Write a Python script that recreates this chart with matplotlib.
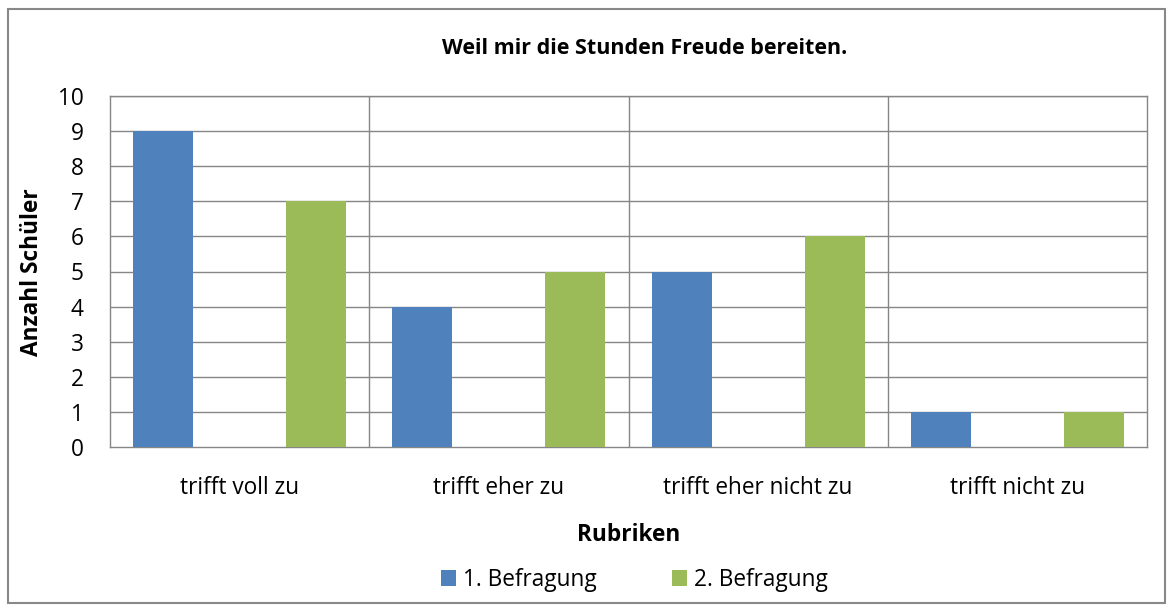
import matplotlib
matplotlib.use("Agg")
import matplotlib.pyplot as plt
from matplotlib.patches import Rectangle
import numpy as np

categories = ["trifft voll zu", "trifft eher zu", "trifft eher nicht zu", "trifft nicht zu"]
befragung1 = [9, 4, 5, 1]
befragung2 = [7, 5, 6, 1]
series_names = ["1. Befragung", "2. Befragung"]
yticks = list(range(0, 11))

plt.rcParams['font.family'] = ['Open Sans', 'DejaVu Sans']

W, H = 1175, 612
fig = plt.figure(figsize=(W/100, H/100), dpi=100)
fig.patches.append(Rectangle((8/W, 9/H), (1165-8)/W, (603-9)/H, transform=fig.transFigure,
                             fill=False, edgecolor='#888888', linewidth=1.5))

ax = fig.add_axes([110/W, 1-447/H, (1147-110)/W, (447-96)/H])
x = np.arange(len(categories))
bw = 0.232
ax.bar(x - 0.295, befragung1, bw, color='#4F81BD', label=series_names[0], zorder=3)
ax.bar(x + 0.295, befragung2, bw, color='#9BBB59', label=series_names[1], zorder=3)

fs = 16.3
ax.set_xlim(-0.5, len(categories) - 0.5)
ax.set_ylim(0, 10)
ax.set_yticks(yticks)
ax.set_xticks(x)
ax.set_xticklabels(categories, fontsize=fs)
ax.tick_params(axis='y', labelsize=fs, length=0, pad=19)
ax.tick_params(axis='x', length=0, pad=21)
for y in yticks[1:]:
    ax.axhline(y, color='#868686', linewidth=1, zorder=1)
for xb in np.arange(0.5, len(categories) - 0.5, 1):
    ax.axvline(xb, color='#868686', linewidth=1, zorder=1)
for s in ax.spines.values():
    s.set_color('#868686')
    s.set_linewidth(1)

fig.text(645 / W, 1 - 48/H, "Weil mir die Stunden Freude bereiten.",
         ha='center', va='center', fontsize=15.5, fontweight='bold')
fig.text(32/W, 1 - 272/H, "Anzahl Schüler", rotation=90, ha='center', va='center',
         fontsize=fs, fontweight='bold')
fig.text(0.5 * (110 + 1147) / W, 1 - 535/H, "Rubriken", ha='center', va='center',
         fontsize=fs, fontweight='bold')

handles, labels = ax.get_legend_handles_labels()
fig.legend(handles, labels, loc='center', bbox_to_anchor=(0.5 * (110 + 1147) / W + 0.005, 1 - 580/H),
           ncol=2, frameon=False, fontsize=fs, handlelength=0.68, handleheight=0.68,
           handletextpad=0.3, columnspacing=3.3)

fig.savefig("out.png", dpi=100)
